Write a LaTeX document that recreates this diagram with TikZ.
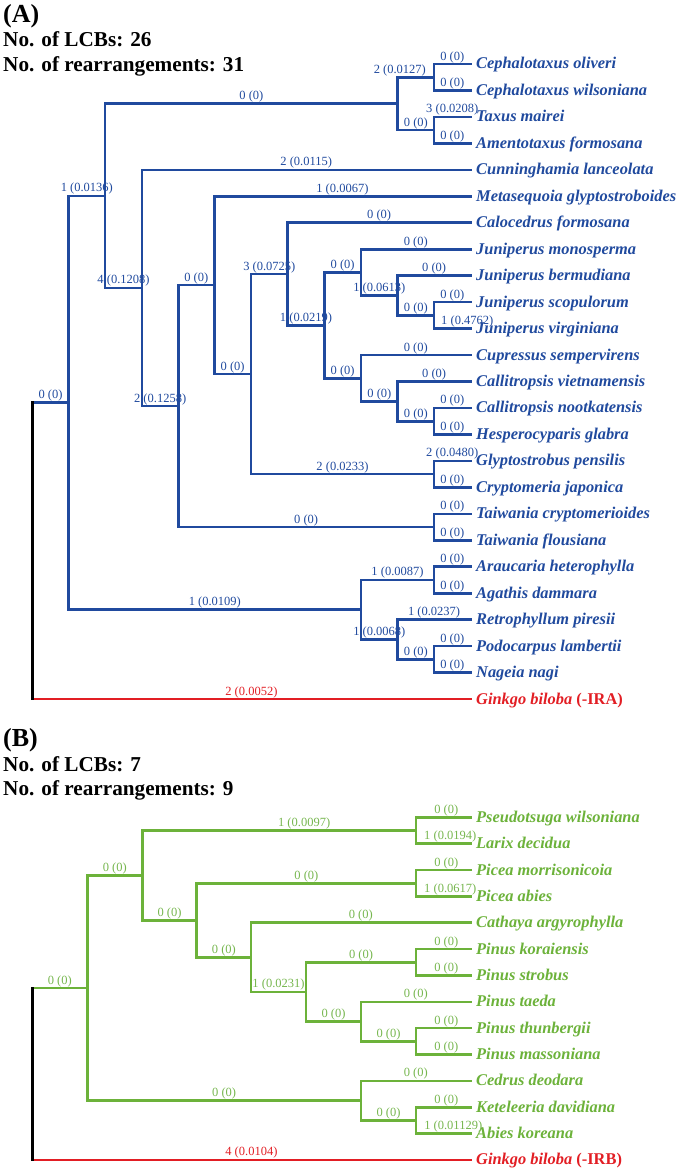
\documentclass[tikz,border=0pt]{standalone}
\usepackage{fontspec}
\setmainfont{Liberation Serif}
\definecolor{tblue}{RGB}{32,74,158}
\definecolor{tgreen}{RGB}{108,178,58}
\definecolor{tgreenl}{RGB}{118,182,78}
\definecolor{tred}{RGB}{226,30,36}
\newcommand\leafA[3]{\coordinate (#1) at (470.5,#2); \node[leaf,text=tblue] (#1t) at (476,#2+5) {#3};}
\newcommand\leafB[3]{\coordinate (#1) at (470.5,#2); \node[leaf,text=tgreen] (#1t) at (476,#2+5) {#3};}
\begin{document}
\begin{tikzpicture}[x=1pt,y=-1pt,
  br/.style={line width=2.6pt,line cap=rect},
  lab/.style={anchor=base,yshift=4pt,inner sep=0pt,font=\fontsize{12.5}{14}\selectfont},
  leaf/.style={anchor=base west,inner sep=0pt,font=\fontsize{16.4}{18}\selectfont\bfseries\itshape},
  ttl/.style={anchor=base west,inner sep=0pt,font=\fontsize{21.2}{24}\selectfont\bfseries},
  bigttl/.style={anchor=base west,inner sep=0pt,font=\fontsize{26}{28}\selectfont\bfseries}]
\useasboundingbox (0,0) rectangle (680,1172);

% ---------------- Panel A ----------------
\node[bigttl] (tA) at (3,22.7) {(A)};
\node[ttl] (tA1) at (3,47) {No. of LCBs: 26};
\node[ttl] (tA2) at (3,71) {No. of rearrangements: 31};

\leafA{a0}{64.0}{Cephalotaxus oliveri}
\leafA{a1}{90.46}{Cephalotaxus wilsoniana}
\leafA{a2}{116.92}{Taxus mairei}
\leafA{a3}{143.38}{Amentotaxus formosana}
\leafA{a4}{169.84}{Cunninghamia lanceolata}
\leafA{a5}{196.3}{Metasequoia glyptostroboides}
\leafA{a6}{222.76}{Calocedrus formosana}
\leafA{a7}{249.22}{Juniperus monosperma}
\leafA{a8}{275.68}{Juniperus bermudiana}
\leafA{a9}{302.14}{Juniperus scopulorum}
\leafA{a10}{328.6}{Juniperus virginiana}
\leafA{a11}{355.06}{Cupressus sempervirens}
\leafA{a12}{381.52}{Callitropsis vietnamensis}
\leafA{a13}{407.98}{Callitropsis nootkatensis}
\leafA{a14}{434.44}{Hesperocyparis glabra}
\leafA{a15}{460.9}{Glyptostrobus pensilis}
\leafA{a16}{487.36}{Cryptomeria japonica}
\leafA{a17}{513.82}{Taiwania cryptomerioides}
\leafA{a18}{540.28}{Taiwania flousiana}
\leafA{a19}{566.74}{Araucaria heterophylla}
\leafA{a20}{593.2}{Agathis dammara}
\leafA{a21}{619.66}{Retrophyllum piresii}
\leafA{a22}{646.12}{Podocarpus lambertii}
\leafA{a23}{672.58}{Nageia nagi}
\coordinate (a24) at (470.5,699.04);
\node[leaf,text=tred] (a24t) at (476,704.04) {Ginkgo biloba \upshape(-IRA)};

\coordinate (Ceph) at (434,77.23);
\coordinate (Tax) at (434,130.15);
\coordinate (Taxa) at (397.7,103.69);
\coordinate (Js) at (434,315.37);
\coordinate (Jb) at (397.7,295.5);
\coordinate (Jn) at (361,272.36);
\coordinate (Cn) at (434,421.21);
\coordinate (Cv) at (397.7,401.37);
\coordinate (Cu) at (361,378.2);
\coordinate (X8) at (324.3,325.28);
\coordinate (X7) at (287.7,274.02);
\coordinate (Gl) at (434,474.13);
\coordinate (X6) at (251,374.08);
\coordinate (X5) at (214.3,285.19);
\coordinate (Tw) at (434,527.05);
\coordinate (X4) at (178.3,406.12);
\coordinate (X3) at (142,287.98);
\coordinate (X2) at (105,195.84);
\coordinate (Ar) at (434,579.97);
\coordinate (Po) at (434,659.35);
\coordinate (Pd) at (397.7,639.5);
\coordinate (Pg) at (361,609.74);
\coordinate (MainA) at (68.7,402.79);
\coordinate (rA) at (32.3,550);

\begin{scope}[br,tblue]
\draw (Ceph) |- (a0) node[lab,pos=0.75] {0 (0)};
\draw (Ceph) |- (a1) node[lab,pos=0.75] {0 (0)};
\draw (Tax) |- (a2) node[lab,pos=0.75] {3 (0.0208)};
\draw (Tax) |- (a3) node[lab,pos=0.75] {0 (0)};
\draw (Taxa) |- (Ceph) node[lab,pos=0.75,xshift=-16pt] {2 (0.0127)};
\draw (Taxa) |- (Tax) node[lab,pos=0.75] {0 (0)};
\draw (X2) |- (Taxa) node[lab,pos=0.75] {0 (0)};
\draw (X2) |- (X3) node[lab,pos=0.75] {4 (0.1208)};
\draw (X3) |- (a4) node[lab,pos=0.75] {2 (0.0115)};
\draw (X3) |- (X4) node[lab,pos=0.75] {2 (0.1258)};
\draw (X4) |- (X5) node[lab,pos=0.75] {0 (0)};
\draw (X4) |- (Tw) node[lab,pos=0.75] {0 (0)};
\draw (X5) |- (a5) node[lab,pos=0.75] {1 (0.0067)};
\draw (X5) |- (X6) node[lab,pos=0.75] {0 (0)};
\draw (X6) |- (X7) node[lab,pos=0.75] {3 (0.0725)};
\draw (X6) |- (Gl) node[lab,pos=0.75] {2 (0.0233)};
\draw (X7) |- (a6) node[lab,pos=0.75] {0 (0)};
\draw (X7) |- (X8) node[lab,pos=0.75] {1 (0.0219)};
\draw (X8) |- (Jn) node[lab,pos=0.75] {0 (0)};
\draw (X8) |- (Cu) node[lab,pos=0.75] {0 (0)};
\draw (Jn) |- (a7) node[lab,pos=0.75] {0 (0)};
\draw (Jn) |- (Jb) node[lab,pos=0.75] {1 (0.0613)};
\draw (Jb) |- (a8) node[lab,pos=0.75] {0 (0)};
\draw (Jb) |- (Js) node[lab,pos=0.75] {0 (0)};
\draw (Js) |- (a9) node[lab,pos=0.75] {0 (0)};
\draw (Js) |- (a10) node[lab,pos=0.75,xshift=15pt] {1 (0.4762)};
\draw (Cu) |- (a11) node[lab,pos=0.75] {0 (0)};
\draw (Cu) |- (Cv) node[lab,pos=0.75] {0 (0)};
\draw (Cv) |- (a12) node[lab,pos=0.75] {0 (0)};
\draw (Cv) |- (Cn) node[lab,pos=0.75] {0 (0)};
\draw (Cn) |- (a13) node[lab,pos=0.75] {0 (0)};
\draw (Cn) |- (a14) node[lab,pos=0.75] {0 (0)};
\draw (Gl) |- (a15) node[lab,pos=0.75] {2 (0.0480)};
\draw (Gl) |- (a16) node[lab,pos=0.75] {0 (0)};
\draw (Tw) |- (a17) node[lab,pos=0.75] {0 (0)};
\draw (Tw) |- (a18) node[lab,pos=0.75] {0 (0)};
\draw (MainA) |- (X2) node[lab,pos=0.75] {1 (0.0136)};
\draw (MainA) |- (Pg) node[lab,pos=0.75] {1 (0.0109)};
\draw (Pg) |- (Ar) node[lab,pos=0.75] {1 (0.0087)};
\draw (Pg) |- (Pd) node[lab,pos=0.75] {1 (0.0068)};
\draw (Ar) |- (a19) node[lab,pos=0.75] {0 (0)};
\draw (Ar) |- (a20) node[lab,pos=0.75] {0 (0)};
\draw (Pd) |- (a21) node[lab,pos=0.75] {1 (0.0237)};
\draw (Pd) |- (Po) node[lab,pos=0.75] {0 (0)};
\draw (Po) |- (a22) node[lab,pos=0.75] {0 (0)};
\draw (Po) |- (a23) node[lab,pos=0.75] {0 (0)};
\draw (rA |- MainA) -- (MainA) node[lab,pos=0.5] {0 (0)};
\end{scope}
\draw[br,tred,line width=2.3pt] (rA |- a24) -- (a24) node[lab,pos=0.5] {2 (0.0052)};
\draw[br,black] (rA |- MainA) -- (rA |- a24);

% ---------------- Panel B ----------------
\node[bigttl] (tB) at (3,746.7) {(B)};
\node[ttl] (tB1) at (3,771.7) {No. of LCBs: 7};
\node[ttl] (tB2) at (3,795.5) {No. of rearrangements: 9};

\leafB{b0}{817.3}{Pseudotsuga wilsoniana}
\leafB{b1}{843.66}{Larix decidua}
\leafB{b2}{870.02}{Picea morrisonicoia}
\leafB{b3}{896.38}{Picea abies}
\leafB{b4}{922.74}{Cathaya argyrophylla}
\leafB{b5}{949.1}{Pinus koraiensis}
\leafB{b6}{975.46}{Pinus strobus}
\leafB{b7}{1001.82}{Pinus taeda}
\leafB{b8}{1028.18}{Pinus thunbergii}
\leafB{b9}{1054.54}{Pinus massoniana}
\leafB{b10}{1080.9}{Cedrus deodara}
\leafB{b11}{1107.26}{Keteleeria davidiana}
\leafB{b12}{1133.62}{Abies koreana}
\coordinate (b13) at (470.5,1159.98);
\node[leaf,text=tred] (b13t) at (476,1164.98) {Ginkgo biloba \upshape(-IRB)};

\coordinate (Ps) at (416,830.48);
\coordinate (Pc) at (416,883.2);
\coordinate (Pk) at (416,962.28);
\coordinate (Pth) at (416,1041.36);
\coordinate (Pt) at (361,1021.59);
\coordinate (N4) at (306,991.94);
\coordinate (N3) at (251,957.34);
\coordinate (N2) at (196.7,920.27);
\coordinate (N1) at (142.3,875.38);
\coordinate (Kt) at (416,1120.44);
\coordinate (Cd) at (361,1100.67);
\coordinate (MainB) at (87.3,988.03);
\coordinate (rB) at (32.3,1070);

\begin{scope}[br,tgreen]
\tikzset{lab/.append style={text=tgreenl}}
\draw (Ps) |- (b0) node[lab,pos=0.75,xshift=3pt] {0 (0)};
\draw (Ps) |- (b1) node[lab,pos=0.75,xshift=7pt] {1 (0.0194)};
\draw (Pc) |- (b2) node[lab,pos=0.75,xshift=3pt] {0 (0)};
\draw (Pc) |- (b3) node[lab,pos=0.75,xshift=7pt] {1 (0.0617)};
\draw (N1) |- (Ps) node[lab,pos=0.75,xshift=25pt] {1 (0.0097)};
\draw (N1) |- (N2) node[lab,pos=0.75] {0 (0)};
\draw (N2) |- (Pc) node[lab,pos=0.75] {0 (0)};
\draw (N2) |- (N3) node[lab,pos=0.75] {0 (0)};
\draw (N3) |- (b4) node[lab,pos=0.75] {0 (0)};
\draw (N3) |- (N4) node[lab,pos=0.75] {1 (0.0231)};
\draw (N4) |- (Pk) node[lab,pos=0.75] {0 (0)};
\draw (N4) |- (Pt) node[lab,pos=0.75] {0 (0)};
\draw (Pk) |- (b5) node[lab,pos=0.75,xshift=3pt] {0 (0)};
\draw (Pk) |- (b6) node[lab,pos=0.75,xshift=3pt] {0 (0)};
\draw (Pt) |- (b7) node[lab,pos=0.75] {0 (0)};
\draw (Pt) |- (Pth) node[lab,pos=0.75] {0 (0)};
\draw (Pth) |- (b8) node[lab,pos=0.75,xshift=3pt] {0 (0)};
\draw (Pth) |- (b9) node[lab,pos=0.75,xshift=3pt] {0 (0)};
\draw (MainB) |- (N1) node[lab,pos=0.75] {0 (0)};
\draw (MainB) |- (Cd) node[lab,pos=0.75] {0 (0)};
\draw (Cd) |- (b10) node[lab,pos=0.75] {0 (0)};
\draw (Cd) |- (Kt) node[lab,pos=0.75] {0 (0)};
\draw (Kt) |- (b11) node[lab,pos=0.75,xshift=3pt] {0 (0)};
\draw (Kt) |- (b12) node[lab,pos=0.75,xshift=10pt] {1 (0.01129)};
\draw (rB |- MainB) -- (MainB) node[lab,pos=0.5] {0 (0)};
\end{scope}
\draw[br,tred,line width=2.3pt] (rB |- b13) -- (b13) node[lab,pos=0.5] {4 (0.0104)};
\draw[br,black] (rB |- MainB) -- (rB |- b13);
\end{tikzpicture}
\end{document}
